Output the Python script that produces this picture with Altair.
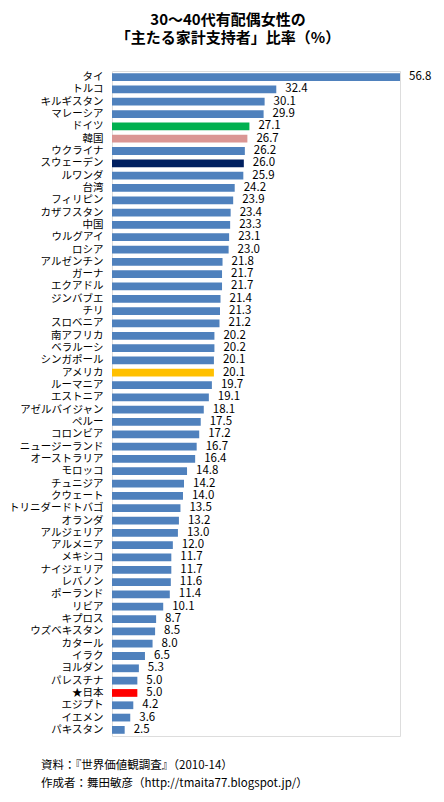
import altair as alt
import pandas as pd

countries = ["タイ", "トルコ", "キルギスタン", "マレーシア", "ドイツ", "韓国", "ウクライナ", "スウェーデン",
             "ルワンダ", "台湾", "フィリピン", "カザフスタン", "中国", "ウルグアイ", "ロシア", "アルゼンチン",
             "ガーナ", "エクアドル", "ジンバブエ", "チリ", "スロベニア", "南アフリカ", "ベラルーシ", "シンガポール",
             "アメリカ", "ルーマニア", "エストニア", "アゼルバイジャン", "ペルー", "コロンビア", "ニュージーランド",
             "オーストラリア", "モロッコ", "チュニジア", "クウェート", "トリニダードトバゴ", "オランダ", "アルジェリア",
             "アルメニア", "メキシコ", "ナイジェリア", "レバノン", "ポーランド", "リビア", "キプロス", "ウズベキスタン",
             "カタール", "イラク", "ヨルダン", "パレスチナ", "★日本", "エジプト", "イエメン", "パキスタン"]
values = [56.8, 32.4, 30.1, 29.9, 27.1, 26.7, 26.2, 26.0, 25.9, 24.2, 23.9, 23.4, 23.3, 23.1, 23.0, 21.8,
          21.7, 21.7, 21.4, 21.3, 21.2, 20.2, 20.2, 20.1, 20.1, 19.7, 19.1, 18.1, 17.5, 17.2, 16.7, 16.4,
          14.8, 14.2, 14.0, 13.5, 13.2, 13.0, 12.0, 11.7, 11.7, 11.6, 11.4, 10.1, 8.7, 8.5, 8.0, 6.5, 5.3,
          5.0, 5.0, 4.2, 3.6, 2.5]
highlight = {"ドイツ": "#00B050", "韓国": "#DA9694", "スウェーデン": "#002060",
             "アメリカ": "#FFC000", "★日本": "#FF0000"}
default_color = "#4F81BD"

title_lines = ["30～40代有配偶女性の", "「主たる家計支持者」比率（%）"]
footer_lines = ["資料：『世界価値観調査』（2010-14）", "作成者：舞田敏彦（http://tmaita77.blogspot.jp/）"]

df = pd.DataFrame({
    "country": countries,
    "value": values,
    "color": [highlight.get(c, default_color) for c in countries],
    "label": [f"{v:.1f}" for v in values],
})

FONT = "Noto Sans CJK JP"

base = alt.Chart(df).encode(
    y=alt.Y("country:N", sort=countries, title=None,
            scale=alt.Scale(paddingInner=0.37, paddingOuter=0.18),
            axis=alt.Axis(domain=False, ticks=False, labelPadding=9, labelFontSize=10.5,
                          labelFont=FONT, labelColor="#000000", labelLimit=200)),
    x=alt.X("value:Q", title=None, scale=alt.Scale(domain=[0, 56.8], nice=False, zero=True),
            axis=None),
)

bars = base.mark_bar().encode(color=alt.Color("color:N", scale=None))
labels = base.mark_text(align="left", baseline="middle", dx=9, fontSize=11.5, font=FONT,
                        color="#000000").encode(text="label:N")

footer = alt.Chart(pd.DataFrame({"t": ["\n".join(footer_lines)]})).mark_text(
    align="left", baseline="alphabetic", fontSize=11.5, font=FONT, color="#000000",
    lineBreak="\n", lineHeight=18,
).encode(text="t:N", x=alt.value(-71), y=alt.value(698))

chart = alt.layer(bars, labels, footer).properties(
    width=288,
    height=665,
    autosize=alt.AutoSizeParams(type="none"),
    padding={"left": 104, "top": 63, "right": 34, "bottom": 56},
    title=alt.TitleParams(title_lines, font=FONT, fontSize=15, fontWeight="bold",
                          color="#000000", anchor="middle", dx=-28, offset=25, lineHeight=18),
).configure_view(stroke=None).configure(background="#FFFFFF")

chart.save("out.html", embed_options={"renderer": "svg", "actions": False})
